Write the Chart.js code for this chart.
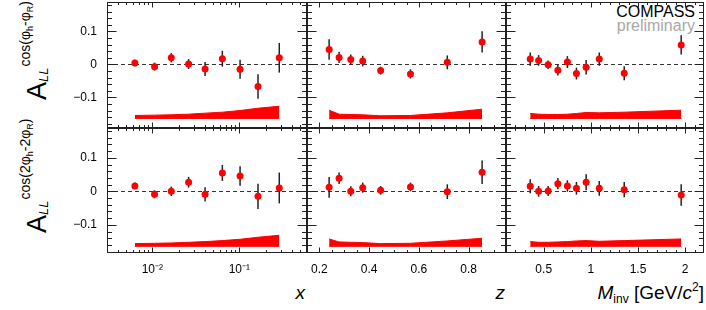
<!DOCTYPE html>
<html>
<head>
<meta charset="utf-8">
<script src="https://cdn.jsdelivr.net/npm/chart.js@4.4.1/dist/chart.umd.min.js"></script>
<style>
body { margin: 0; background: #fff; }
#wrap { position: relative; width: 706px; height: 310px; overflow: hidden; font-family: "Liberation Sans", Arial, sans-serif; color: #000; }
#wrap canvas { position: absolute; }
.txt { position: absolute; white-space: nowrap; line-height: 1; }
.ytitle { position: absolute; transform-origin: 0 0; transform: rotate(-90deg); white-space: nowrap; line-height: 1; font-size: 27px; }
.ytitle .sub { position: relative; top: 2px; font-size: 13px; font-style: italic; }
.ytitle .sup { position: relative; top: -16px; font-size: 14px; margin-left: 1px; }
.ssub { font-size: 9px; position: relative; top: 3px; }
</style>
</head>
<body>
<div id="wrap">
  <div class="ytitle" style="left:24px; top:100px">A<span class="sub">LL</span><span class="sup">cos(φ<span class="ssub">h</span>-φ<span class="ssub">R</span>)</span></div>
  <div class="ytitle" style="left:24px; top:233px">A<span class="sub">LL</span><span class="sup">cos(2φ<span class="ssub">h</span>-2φ<span class="ssub">R</span>)</span></div>
  <div class="txt" style="right:11px; top:4px; font-size:16px;">COMPASS</div>
  <div class="txt" style="right:11px; top:18px; font-size:16px; color:#a8a8a8;">preliminary</div>
  <div class="txt" style="right:401px; top:283px; font-size:19px; font-style:italic;">x</div>
  <div class="txt" style="right:201px; top:283px; font-size:19px; font-style:italic;">z</div>
  <div class="txt" style="right:2px; top:283px; font-size:19px;"><i>M</i><span style="font-size:12px; position:relative; top:4px;">inv</span> [GeV/<i>c</i><span style="font-size:12px; position:relative; top:-8px;">2</span>]</div>
</div>
<script>
// bin centres
const xBins = [0.0063, 0.0106, 0.0165, 0.0261, 0.0404, 0.0638, 0.102, 0.164, 0.288];
const zBins = [0.239, 0.279, 0.326, 0.374, 0.446, 0.566, 0.714, 0.854];
const mBins = [0.357, 0.446, 0.547, 0.650, 0.751, 0.847, 0.950, 1.089, 1.354, 1.958];

// cos(phi_h - phi_R) asymmetry
const a1X = [0.004, -0.007, 0.020, 0.001, -0.014, 0.017, -0.015, -0.067, 0.020];
const e1X = [0.010, 0.012, 0.014, 0.015, 0.021, 0.024, 0.029, 0.037, 0.045];
const s1X = [0.009, 0.010, 0.011, 0.013, 0.016, 0.019, 0.024, 0.031, 0.037];
const a1Z = [0.045, 0.021, 0.015, 0.010, -0.019, -0.029, 0.006, 0.068];
const e1Z = [0.031, 0.017, 0.015, 0.016, 0.012, 0.014, 0.021, 0.032];
const s1Z = [0.025, 0.013, 0.012, 0.011, 0.008, 0.009, 0.017, 0.028];
const a1M = [0.016, 0.012, -0.001, -0.018, 0.007, -0.028, -0.009, 0.016, -0.027, 0.059];
const e1M = [0.020, 0.016, 0.013, 0.016, 0.018, 0.018, 0.022, 0.020, 0.021, 0.029];
const s1M = [0.015, 0.013, 0.012, 0.012, 0.013, 0.015, 0.018, 0.017, 0.019, 0.025];

// cos(2phi_h - 2phi_R) asymmetry
const a2X = [0.016, -0.009, 0.000, 0.027, -0.009, 0.055, 0.046, -0.015, 0.010];
const e2X = [0.010, 0.012, 0.014, 0.016, 0.021, 0.024, 0.029, 0.038, 0.046];
const s2X = [0.008, 0.009, 0.010, 0.012, 0.014, 0.017, 0.021, 0.027, 0.033];
const a2Z = [0.012, 0.039, 0.000, 0.011, 0.003, 0.013, -0.001, 0.057];
const e2Z = [0.031, 0.017, 0.015, 0.015, 0.013, 0.013, 0.022, 0.035];
const s2Z = [0.022, 0.013, 0.012, 0.011, 0.008, 0.009, 0.016, 0.024];
const a2M = [0.015, 0.000, 0.001, 0.023, 0.016, 0.009, 0.027, 0.009, 0.005, -0.011];
const e2M = [0.021, 0.016, 0.015, 0.017, 0.017, 0.019, 0.024, 0.022, 0.023, 0.032];
const s2M = [0.014, 0.012, 0.012, 0.013, 0.014, 0.016, 0.017, 0.015, 0.017, 0.022];

// tick labels
const yTicks = [-0.1, 0, 0.1];
const xTicks = [0.01, 0.1];
const xTickLabels = ['10\u207B\u00B2', '10\u207B\u00B9'];
const zTicks = [0.2, 0.4, 0.6, 0.8];
const mTicks = [0.5, 1, 1.5, 2];

const sysBase = -0.164; // where the systematic bands sit

// page layout of the 2x3 pads
const cols = [[107, 307], [307, 506], [506, 704]];
const rows = [[2, 128], [128, 253]];
const yRanges = [[-0.193, 0.189], [-0.184, 0.189]];
const xRanges = [[0.00301, 0.6], [0.15, 0.95], [0.1, 2.2]];

// minor tick positions (style only)
function steps(from, to, div) {
    const out = [];
    for (let i = from; i <= to; i++) out.push(i / div);
    return out;
}
const xMinor = [];
[0.001, 0.01, 0.1].forEach(d => { for (let k = 2; k <= 9; k++) xMinor.push(k * d); });
const minors = [xMinor, steps(3, 19, 20), steps(1, 22, 10)];
const majors = [xTicks, zTicks, mTicks];
const yMinor = steps(-9, 9, 50);

const fontTick = { family: 'Liberation Sans', size: 12 };

const padDeco = {
    id: 'padDeco',
    beforeDatasetsDraw(chart) {
        const { ctx, chartArea: a, scales: { x, y } } = chart;
        ctx.save();
        ctx.beginPath();
        ctx.rect(a.left, a.top, a.right - a.left, a.bottom - a.top);
        ctx.clip();
        // dashed zero line
        const y0 = Math.round(y.getPixelForValue(0)) + 0.5;
        ctx.strokeStyle = '#333';
        ctx.lineWidth = 1;
        ctx.setLineDash([4, 3]);
        ctx.beginPath();
        ctx.moveTo(a.left, y0);
        ctx.lineTo(a.right, y0);
        ctx.stroke();
        ctx.setLineDash([]);
        // statistical error bars
        const ds = chart.data.datasets[2];
        ctx.strokeStyle = '#222';
        ctx.lineWidth = 1.5;
        ds.data.forEach((p, i) => {
            const px = x.getPixelForValue(p.x);
            ctx.beginPath();
            ctx.moveTo(px, y.getPixelForValue(p.y - ds.errors[i]));
            ctx.lineTo(px, y.getPixelForValue(p.y + ds.errors[i]));
            ctx.stroke();
        });
        ctx.restore();
    },
    afterDraw(chart, args, opts) {
        const { ctx, chartArea: a, scales: { x, y } } = chart;
        const L = Math.round(a.left) + 0.5, R = Math.round(a.right) - 0.5;
        const T = Math.round(a.top) + 0.5, B = Math.round(a.bottom) - 0.5;
        ctx.save();
        ctx.strokeStyle = '#222';
        ctx.lineWidth = 1;
        ctx.strokeRect(L, T, R - L, B - T);
        ctx.beginPath();
        const xt = (vals, len) => vals.forEach(v => {
            const p = Math.round(x.getPixelForValue(v)) + 0.5;
            if (p < L + 1 || p > R - 1) return;
            ctx.moveTo(p, B); ctx.lineTo(p, B - len);
            ctx.moveTo(p, T); ctx.lineTo(p, T + len);
        });
        const yt = (vals, len) => vals.forEach(v => {
            const p = Math.round(y.getPixelForValue(v)) + 0.5;
            if (p < T + 1 || p > B - 1) return;
            ctx.moveTo(L, p); ctx.lineTo(L + len, p);
            ctx.moveTo(R, p); ctx.lineTo(R - len, p);
        });
        xt(opts.xMajor, 5);
        xt(opts.xMinor, 2.5);
        yt(yTicks, 9);
        yt(yMinor, 4.5);
        ctx.stroke();
        ctx.restore();
    }
};

function makePad(col, row, xs, ys, errs, sys) {
    const wrap = document.getElementById('wrap');
    const [cl, cr] = cols[col], [rt, rb] = rows[row];
    const L = col === 0 ? 50 : 4, B = row === 1 ? 30 : 4;
    const cv = document.createElement('canvas');
    cv.width = cr - cl + L + 4;
    cv.height = rb - rt + 4 + B;
    cv.style.left = (cl - L) + 'px';
    cv.style.top = (rt - 4) + 'px';
    wrap.appendChild(cv);

    const xType = col === 0 ? 'logarithmic' : 'linear';
    new Chart(cv, {
        type: 'scatter',
        data: {
            datasets: [
                {
                    type: 'line',
                    data: xs.map(v => ({ x: v, y: sysBase })),
                    borderColor: '#ff0000', borderWidth: 1, pointRadius: 0, fill: false, tension: 0
                },
                {
                    type: 'line',
                    data: xs.map((v, i) => ({ x: v, y: sysBase + sys[i] })),
                    borderColor: '#ff0000', borderWidth: 1, pointRadius: 0, tension: 0,
                    fill: '-1', backgroundColor: '#ff0000'
                },
                {
                    data: xs.map((v, i) => ({ x: v, y: ys[i] })),
                    errors: errs,
                    pointRadius: 3.5, pointBackgroundColor: '#ff0000', pointBorderWidth: 0,
                    backgroundColor: '#ff0000', borderColor: '#ff0000'
                }
            ]
        },
        options: {
            responsive: false,
            animation: false,
            devicePixelRatio: 1,
            layout: { autoPadding: false, padding: { left: 4, right: 4, top: 4, bottom: 4 } },
            plugins: {
                legend: { display: false },
                tooltip: { enabled: false },
                padDeco: { xMajor: majors[col], xMinor: minors[col] }
            },
            scales: {
                x: {
                    type: xType,
                    min: xRanges[col][0], max: xRanges[col][1],
                    display: row === 1,
                    grid: { display: false, drawTicks: false },
                    border: { display: false },
                    afterBuildTicks: s => { s.ticks = majors[col].map(v => ({ value: v })); },
                    afterFit: s => {
                        s.height = row === 1 ? 26 : 0;
                        s.paddingLeft = 0; s.paddingRight = 0;
                    },
                    ticks: {
                        font: fontTick, color: '#000', padding: 9, maxRotation: 0, autoSkip: false,
                        callback: (v, i) => col === 0 ? xTickLabels[i] : String(v)
                    }
                },
                y: {
                    min: yRanges[row][0], max: yRanges[row][1],
                    display: col === 0,
                    grid: { display: false, drawTicks: false },
                    border: { display: false },
                    afterBuildTicks: s => { s.ticks = yTicks.map(v => ({ value: v })); },
                    afterFit: s => {
                        s.width = col === 0 ? 46 : 0;
                        s.paddingTop = 0; s.paddingBottom = 0;
                    },
                    ticks: {
                        font: fontTick, color: '#000', padding: 10,
                        callback: v => v < 0 ? '\u2212' + (-v) : String(v)
                    }
                }
            }
        },
        plugins: [padDeco]
    });
}

makePad(0, 0, xBins, a1X, e1X, s1X);
makePad(1, 0, zBins, a1Z, e1Z, s1Z);
makePad(2, 0, mBins, a1M, e1M, s1M);
makePad(0, 1, xBins, a2X, e2X, s2X);
makePad(1, 1, zBins, a2Z, e2Z, s2Z);
makePad(2, 1, mBins, a2M, e2M, s2M);
</script>
</body>
</html>
